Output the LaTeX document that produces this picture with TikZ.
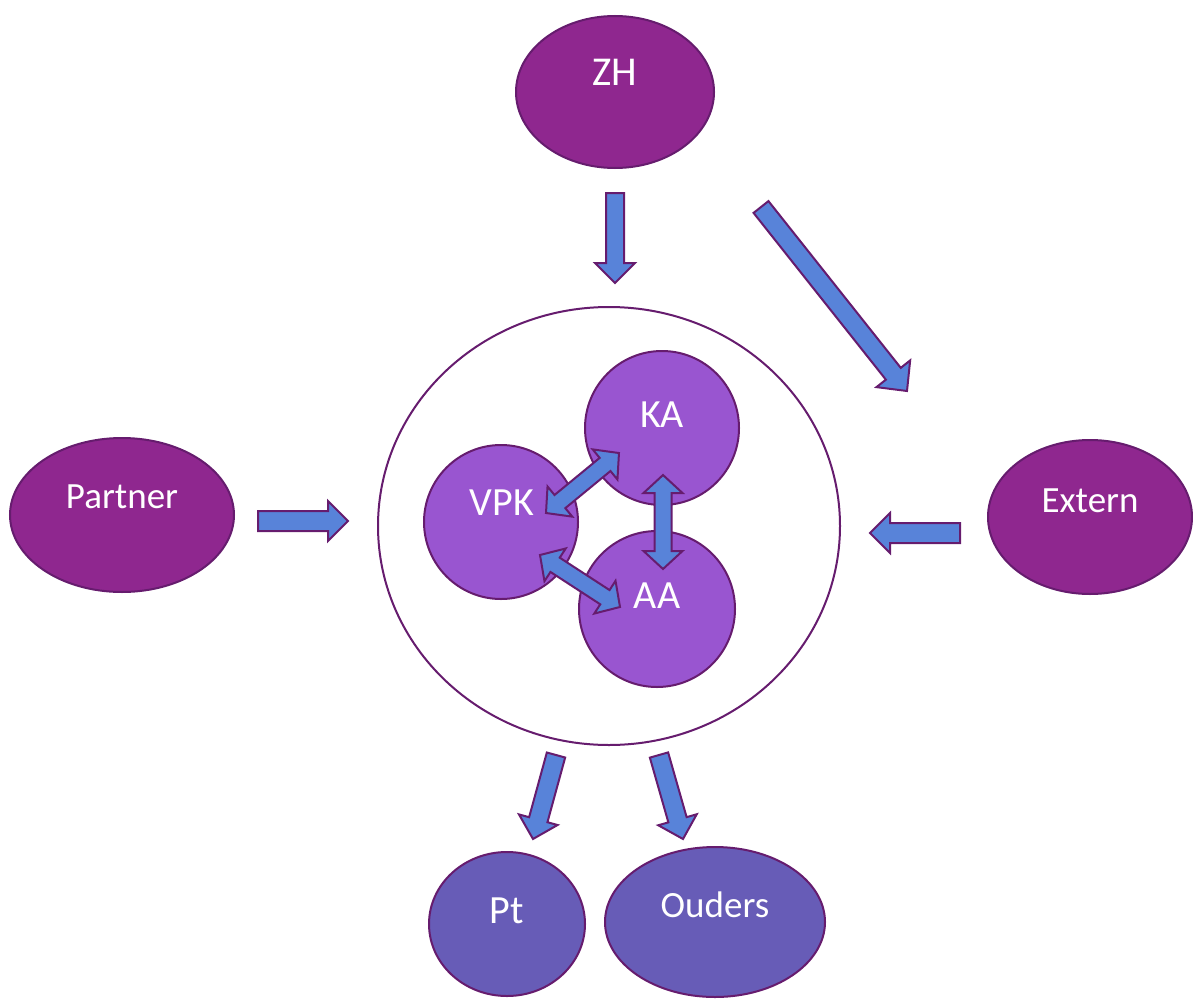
\documentclass[tikz,border=0pt]{standalone}
\usepackage{fontspec}
\setmainfont{Carlito}
\definecolor{outerfill}{HTML}{8F278F}
\definecolor{innerfill}{HTML}{9955D0}
\definecolor{lowfill}{HTML}{675CB7}
\definecolor{edgecol}{HTML}{661C6E}
\definecolor{arrowfill}{HTML}{5883D9}
\tikzset{
  blob/.style={ellipse, draw=edgecol, line width=2pt, inner sep=0pt},
  lbl/.style={text=white, anchor=base, inner sep=0pt},
  barrowstyle/.style={draw=edgecol, fill=arrowfill, line width=2pt, line join=miter},
}
\usetikzlibrary{shapes.geometric,calc}
% single block arrow: #1 tail coord, #2 tip coord, #3 shaft half width, #4 head half width, #5 head length
\newcommand\blockarr[5]{%
  \path let \p1=(#1), \p2=(#2), \n1={atan2(\y2-\y1,\x2-\x1)}, \n2={veclen(\x2-\x1,\y2-\y1)} in
    \pgfextra{\xdef\bA{\n1}\xdef\bL{\n2}\xdef\bX{\x1}\xdef\bY{\y1}};
  \begin{scope}[shift={(\bX,\bY)}, rotate=\bA]
    \draw[barrowstyle] (0,-#3) -- ({\bL-#5},-#3) -- ({\bL-#5},-#4) -- (\bL,0)
      -- ({\bL-#5},#4) -- ({\bL-#5},#3) -- (0,#3) -- cycle;
  \end{scope}
}
\newcommand\dblockarr[5]{%
  \path let \p1=(#1), \p2=(#2), \n1={atan2(\y2-\y1,\x2-\x1)}, \n2={veclen(\x2-\x1,\y2-\y1)} in
    \pgfextra{\xdef\bA{\n1}\xdef\bL{\n2}\xdef\bX{\x1}\xdef\bY{\y1}};
  \begin{scope}[shift={(\bX,\bY)}, rotate=\bA]
    \draw[barrowstyle] (#5,-#3) -- ({\bL-#5},-#3) -- ({\bL-#5},-#4) -- (\bL,0)
      -- ({\bL-#5},#4) -- ({\bL-#5},#3) -- (#5,#3) -- (#5,#4) -- (0,0) -- (#5,-#4) -- cycle;
  \end{scope}
}
\begin{document}
\begin{tikzpicture}[x=1pt,y=1pt]
\useasboundingbox (0,0) rectangle (1193,-998);
% shapes
\node[blob, fill=outerfill, minimum width=198, minimum height=152] (zh) at (615,-92) {};
\node[blob, fill=white, minimum width=462, minimum height=438] (core) at (609,-526) {};
\node[blob, fill=innerfill, minimum width=154, minimum height=154] (ka) at (662,-428) {};
\node[blob, fill=innerfill, minimum width=154, minimum height=154] (vpk) at (501,-522) {};
\node[blob, fill=innerfill, minimum width=156, minimum height=156] (aa) at (657,-609) {};
\node[blob, fill=outerfill, minimum width=224, minimum height=154] (partner) at (122,-515) {};
\node[blob, fill=outerfill, minimum width=204, minimum height=154] (extern) at (1090,-517) {};
\node[blob, fill=lowfill, minimum width=156, minimum height=144] (pt) at (507,-924) {};
\node[blob, fill=lowfill, minimum width=220, minimum height=150] (ouders) at (715,-922) {};
% labels
\node[lbl, font=\fontsize{41}{41}\selectfont] (zhl) at (615,-85) {ZH};
\node[lbl, font=\fontsize{40}{40}\selectfont] (kal) at (662,-427) {KA};
\node[lbl, font=\fontsize{40}{40}\selectfont] (vpkl) at (502,-515) {VPK};
\node[lbl, font=\fontsize{40}{40}\selectfont] (aal) at (657,-608) {AA};
\node[lbl, font=\fontsize{37}{37}\selectfont] (partnerl) at (122,-508) {Partner};
\node[lbl, font=\fontsize{37}{37}\selectfont] (externl) at (1090,-512) {Extern};
\node[lbl, font=\fontsize{40}{40}\selectfont] (ptl) at (507,-923) {Pt};
\node[lbl, font=\fontsize{37}{37}\selectfont] (oudersl) at (715,-917) {Ouders};
% arrow end points
\coordinate (a1s) at (615,-193); \coordinate (a1e) at (615,-283);
\coordinate (a2s) at (761,-207); \coordinate (a2e) at (907,-391);
\coordinate (a3s) at (258,-521); \coordinate (a3e) at (348,-521);
\coordinate (a4s) at (960,-533); \coordinate (a4e) at (870,-533);
\coordinate (a5s) at (556,-755); \coordinate (a5e) at (533,-839);
\coordinate (a6s) at (659,-755); \coordinate (a6e) at (683,-839);
\coordinate (d1s) at (546,-513); \coordinate (d1e) at (619,-453);
\coordinate (d2s) at (663,-475); \coordinate (d2e) at (663,-569);
\coordinate (d3s) at (540,-555); \coordinate (d3e) at (620,-607);
% arrows
\blockarr{a1s}{a1e}{9}{20}{20}
\blockarr{a2s}{a2e}{9.5}{21.5}{22}
\blockarr{a3s}{a3e}{10}{20}{20}
\blockarr{a4s}{a4e}{10}{20}{20}
\blockarr{a5s}{a5e}{9.5}{20}{20}
\blockarr{a6s}{a6e}{9.5}{20}{20}
\dblockarr{d1s}{d1e}{8.5}{19.5}{18}
\dblockarr{d2s}{d2e}{8.5}{19.5}{18}
\dblockarr{d3s}{d3e}{8.5}{19.5}{18}
\end{tikzpicture}
\end{document}
